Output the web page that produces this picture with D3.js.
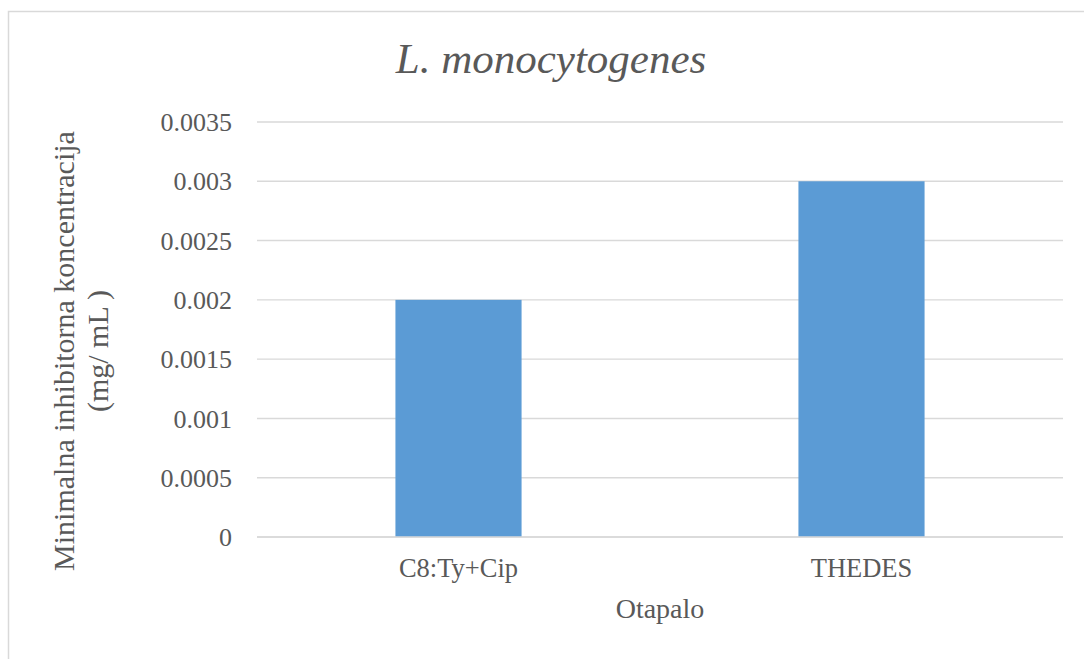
<!DOCTYPE html>
<html><head><meta charset="utf-8">
<script src="https://cdn.jsdelivr.net/npm/d3@7"></script>
<style>html,body{margin:0;padding:0;background:#fff;}</style>
</head><body>
<svg id="c" width="1084" height="659"></svg>
<script>
const categories = ["C8:Ty+Cip", "THEDES"];
const values = [0.002, 0.003];
const yTicks = [0, 0.0005, 0.001, 0.0015, 0.002, 0.0025, 0.003, 0.0035];
const tickLabels = ["0", "0.0005", "0.001", "0.0015", "0.002", "0.0025", "0.003", "0.0035"];
const title = "L. monocytogenes";
const yTitle = ["Minimalna inhibitorna koncentracija", "(mg/ mL )"];
const xTitle = "Otapalo";

const svg = d3.select("#c");
const font = "'Liberation Serif','Times New Roman',serif";
const grey = "#595959";

svg.append("rect").attr("x",0).attr("y",0).attr("width",1084).attr("height",659).attr("fill","#fff");
svg.append("rect").attr("x",8.5).attr("y",11.5).attr("width",1200).attr("height",800)
  .attr("fill","none").attr("stroke","#d9d9d9").attr("stroke-width",1.5);

const L = 257, R = 1063, T = 122, B = 537;
const x = d3.scaleBand().domain(categories).range([L,R]).paddingInner(0.687).paddingOuter(0.3435);
const y = d3.scaleLinear().domain([0,0.0035]).range([B,T]);

const g = svg.append("g");
g.selectAll("line.grid").data(yTicks).join("line")
  .attr("x1",L).attr("x2",R).attr("y1",d=>y(d)).attr("y2",d=>y(d))
  .attr("stroke","#d9d9d9").attr("stroke-width",1.4);

g.selectAll("rect.bar").data(values).join("rect")
  .attr("x",(d,i)=>x(categories[i])).attr("width",x.bandwidth())
  .attr("y",d=>y(d)).attr("height",d=>B-y(d)).attr("fill","#5b9bd5");

g.append("line").attr("x1",L).attr("x2",R).attr("y1",y(0)).attr("y2",y(0))
  .attr("stroke","#d9d9d9").attr("stroke-width",1.4);

g.selectAll("text.yt").data(yTicks).join("text")
  .attr("x",232).attr("y",d=>y(d)).attr("dy","0.35em").attr("text-anchor","end")
  .attr("font-family",font).attr("font-size",26).attr("fill",grey)
  .text((d,i)=>tickLabels[i]);

g.selectAll("text.xt").data(categories).join("text")
  .attr("x",d=>x(d)+x.bandwidth()/2).attr("y",577).attr("text-anchor","middle")
  .attr("font-family",font).attr("font-size",26.5).attr("fill",grey).text(d=>d);

svg.append("text").attr("x",(L+R)/2).attr("y",618).attr("text-anchor","middle")
  .attr("font-family",font).attr("font-size",28).attr("fill",grey).text(xTitle);

const yt = svg.append("text").attr("transform","translate(74,351) rotate(-90)")
  .attr("text-anchor","middle").attr("font-family",font).attr("font-size",30).attr("fill",grey);
yt.append("tspan").attr("x",0).attr("y",0).text(yTitle[0]);
yt.append("tspan").attr("x",0).attr("y",34).text(yTitle[1]);

svg.append("text").attr("x",551).attr("y",73).attr("text-anchor","middle")
  .attr("font-family",font).attr("font-style","italic").attr("font-size",43).attr("fill",grey).text(title);
</script>
</body></html>
